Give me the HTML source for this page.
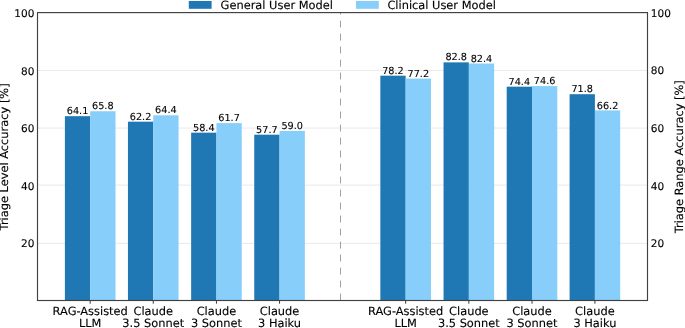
<!DOCTYPE html>
<html><head><meta charset="utf-8"><title>Triage accuracy</title>
<style>
html,body{margin:0;padding:0;background:#fff;}
svg{display:block;will-change:transform;}
text{text-rendering:geometricPrecision;font-family:"DejaVu Sans","Liberation Sans",sans-serif;fill:#000;stroke:#000;stroke-width:0.12px;}
.t{font-size:11.4px;}
.v{font-size:9.7px;}
.y{font-size:10.5px;}
</style></head><body>
<svg width="685" height="328" viewBox="0 0 685 328">
<rect width="685" height="328" fill="#fff"/>
<line x1="37.5" x2="647.5" y1="243.40" y2="243.40" stroke="#e6e6e6" stroke-width="0.9"/>
<line x1="37.5" x2="647.5" y1="185.10" y2="185.10" stroke="#e6e6e6" stroke-width="0.9"/>
<line x1="37.5" x2="647.5" y1="128.05" y2="128.05" stroke="#e6e6e6" stroke-width="0.9"/>
<line x1="37.5" x2="647.5" y1="70.47" y2="70.47" stroke="#e6e6e6" stroke-width="0.9"/>
<rect x="64.90" y="116.18" width="25.30" height="184.32" fill="#1f77b4"/>
<rect x="90.20" y="111.26" width="25.30" height="189.24" fill="#87cefa"/>
<rect x="127.95" y="121.67" width="25.30" height="178.83" fill="#1f77b4"/>
<rect x="153.25" y="115.31" width="25.30" height="185.19" fill="#87cefa"/>
<rect x="191.15" y="132.67" width="25.30" height="167.83" fill="#1f77b4"/>
<rect x="216.45" y="123.12" width="25.30" height="177.38" fill="#87cefa"/>
<rect x="254.25" y="134.69" width="25.30" height="165.81" fill="#1f77b4"/>
<rect x="279.55" y="130.93" width="25.30" height="169.57" fill="#87cefa"/>
<rect x="380.35" y="75.68" width="25.30" height="224.82" fill="#1f77b4"/>
<rect x="405.65" y="78.57" width="25.30" height="221.93" fill="#87cefa"/>
<rect x="443.55" y="62.37" width="25.30" height="238.13" fill="#1f77b4"/>
<rect x="468.85" y="63.53" width="25.30" height="236.97" fill="#87cefa"/>
<rect x="506.70" y="86.67" width="25.30" height="213.83" fill="#1f77b4"/>
<rect x="532.00" y="86.09" width="25.30" height="214.41" fill="#87cefa"/>
<rect x="569.60" y="94.20" width="25.30" height="206.30" fill="#1f77b4"/>
<rect x="594.90" y="110.40" width="25.30" height="190.10" fill="#87cefa"/>
<line x1="340.5" x2="340.5" y1="300.5" y2="12.6" stroke="#a0a0a0" stroke-width="1" stroke-dasharray="6.9 6.1"/>
<rect x="37.5" y="12.6" width="610.0" height="287.9" fill="none" stroke="#404040" stroke-width="1.15"/>
<line x1="90.2" x2="90.2" y1="300.5" y2="303.7" stroke="#3a3a3a" stroke-width="1"/>
<line x1="153.25" x2="153.25" y1="300.5" y2="303.7" stroke="#3a3a3a" stroke-width="1"/>
<line x1="216.45" x2="216.45" y1="300.5" y2="303.7" stroke="#3a3a3a" stroke-width="1"/>
<line x1="279.55" x2="279.55" y1="300.5" y2="303.7" stroke="#3a3a3a" stroke-width="1"/>
<line x1="405.65" x2="405.65" y1="300.5" y2="303.7" stroke="#3a3a3a" stroke-width="1"/>
<line x1="468.85" x2="468.85" y1="300.5" y2="303.7" stroke="#3a3a3a" stroke-width="1"/>
<line x1="532.0" x2="532.0" y1="300.5" y2="303.7" stroke="#3a3a3a" stroke-width="1"/>
<line x1="594.9" x2="594.9" y1="300.5" y2="303.7" stroke="#3a3a3a" stroke-width="1"/>
<text class="v" text-anchor="middle" x="77.55" y="114.28">64.1</text>
<text class="v" text-anchor="middle" x="102.85" y="109.36">65.8</text>
<text class="v" text-anchor="middle" x="140.60" y="119.77">62.2</text>
<text class="v" text-anchor="middle" x="165.90" y="113.41">64.4</text>
<text class="v" text-anchor="middle" x="203.80" y="130.77">58.4</text>
<text class="v" text-anchor="middle" x="229.10" y="121.22">61.7</text>
<text class="v" text-anchor="middle" x="266.90" y="132.79">57.7</text>
<text class="v" text-anchor="middle" x="292.20" y="129.03">59.0</text>
<text class="v" text-anchor="middle" x="393.00" y="73.78">78.2</text>
<text class="v" text-anchor="middle" x="418.30" y="76.67">77.2</text>
<text class="v" text-anchor="middle" x="456.20" y="60.47">82.8</text>
<text class="v" text-anchor="middle" x="481.50" y="61.63">82.4</text>
<text class="v" text-anchor="middle" x="519.35" y="84.77">74.4</text>
<text class="v" text-anchor="middle" x="544.65" y="84.19">74.6</text>
<text class="v" text-anchor="middle" x="582.25" y="92.30">71.8</text>
<text class="v" text-anchor="middle" x="607.55" y="108.50">66.2</text>
<text class="y" text-anchor="end" x="34.4" y="246.85">20</text>
<text class="y" text-anchor="start" x="650.8" y="246.80">20</text>
<text class="y" text-anchor="end" x="34.4" y="189.65">40</text>
<text class="y" text-anchor="start" x="650.8" y="189.65">40</text>
<text class="y" text-anchor="end" x="34.4" y="131.75">60</text>
<text class="y" text-anchor="start" x="650.8" y="131.75">60</text>
<text class="y" text-anchor="end" x="34.4" y="74.60">80</text>
<text class="y" text-anchor="start" x="650.8" y="74.10">80</text>
<text class="y" text-anchor="end" x="34.4" y="16.70">100</text>
<text class="y" text-anchor="start" x="650.8" y="16.70">100</text>
<text class="t" text-anchor="middle" x="90.2" y="314.8">RAG-Assisted</text>
<text class="t" text-anchor="middle" x="90.2" y="327.2">LLM</text>
<text class="t" text-anchor="middle" x="153.25" y="314.8">Claude</text>
<text class="t" text-anchor="middle" x="153.25" y="327.2">3.5 Sonnet</text>
<text class="t" text-anchor="middle" x="216.45" y="314.8">Claude</text>
<text class="t" text-anchor="middle" x="216.45" y="327.2">3 Sonnet</text>
<text class="t" text-anchor="middle" x="279.55" y="314.8">Claude</text>
<text class="t" text-anchor="middle" x="279.55" y="327.2">3 Haiku</text>
<text class="t" text-anchor="middle" x="405.65" y="314.8">RAG-Assisted</text>
<text class="t" text-anchor="middle" x="405.65" y="327.2">LLM</text>
<text class="t" text-anchor="middle" x="468.85" y="314.8">Claude</text>
<text class="t" text-anchor="middle" x="468.85" y="327.2">3.5 Sonnet</text>
<text class="t" text-anchor="middle" x="532.0" y="314.8">Claude</text>
<text class="t" text-anchor="middle" x="532.0" y="327.2">3 Sonnet</text>
<text class="t" text-anchor="middle" x="594.9" y="314.8">Claude</text>
<text class="t" text-anchor="middle" x="594.9" y="327.2">3 Haiku</text>
<text class="t" text-anchor="middle" transform="translate(8.3 156.9) rotate(-90)">Triage Level Accuracy [%]</text>
<text class="t" text-anchor="middle" transform="translate(682.6 156.75) rotate(-90)">Triage Range Accuracy [%]</text>
<rect x="188.8" y="1" width="22.8" height="7.8" fill="#1f77b4"/>
<text class="t" x="220.6" y="8.8">General User Model</text>
<rect x="356.0" y="1" width="22.8" height="7.8" fill="#87cefa"/>
<text class="t" x="387.4" y="8.8">Clinical User Model</text>
</svg></body></html>
